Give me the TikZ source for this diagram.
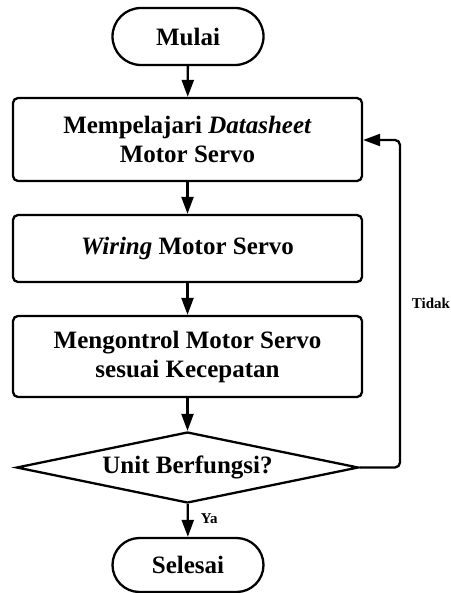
\documentclass[tikz,border=0pt]{standalone}
\usepackage{fontspec}
\setmainfont{Liberation Serif}
\usetikzlibrary{shapes.geometric,shapes.misc,arrows.meta}
\begin{document}
\begin{tikzpicture}[x=1bp,y=-1bp,
  base/.style={draw=black, line width=2.3bp, align=center, inner sep=0pt,
    font=\fontsize{25bp}{29bp}\selectfont\bfseries},
  terminal/.style={base, rounded rectangle, minimum width=151bp, minimum height=55bp},
  process/.style={base, rounded corners=5bp, minimum width=349bp},
  decision/.style={base, diamond, aspect=4.8, minimum width=342bp, minimum height=71bp},
  flow/.style={line width=2.3bp, -{Triangle[length=17bp,width=12bp]}},
  tag/.style={font=\fontsize{15bp}{18bp}\selectfont\bfseries, inner sep=0pt}]
  \useasboundingbox (0,0) rectangle (451,593);

  % process chain
  \node[terminal, minimum height=57bp] (start) at (188,36.5) {Mulai};
  \node[process, minimum height=83bp] (datasheet) at (187.5,139.5)
    {Mempelajari \textit{Datasheet}\\Motor Servo};
  \node[process, minimum height=67bp] (wiring) at (187.5,248.5)
    {\textit{Wiring} Motor Servo};
  \node[process, minimum height=81bp] (control) at (187.5,356.5)
    {Mengontrol Motor Servo\\sesuai Kecepatan};
  \node[decision] (check) at (187.5,467.5) {Unit Berfungsi?};
  \node[terminal, minimum height=54bp] (finish) at (188,565) {Selesai};

  % corners of the feedback loop
  \coordinate (loopbottom) at (400,467.5);
  \coordinate (looptop) at (400,140);

  \draw[flow] (start) -- (datasheet);
  \draw[flow] (datasheet) -- (wiring);
  \draw[flow] (wiring) -- (control);
  \draw[flow] (control) -- (check);
  \draw[flow] (check) -- node[tag, right=12bp, pos=0.45] {Ya} (finish);
  \draw[flow, rounded corners=5bp] (check.east) -- (loopbottom) -- (looptop) -- (datasheet.east |- looptop);

  \node[tag] (tidak) at (431,303) {Tidak};
\end{tikzpicture}
\end{document}
